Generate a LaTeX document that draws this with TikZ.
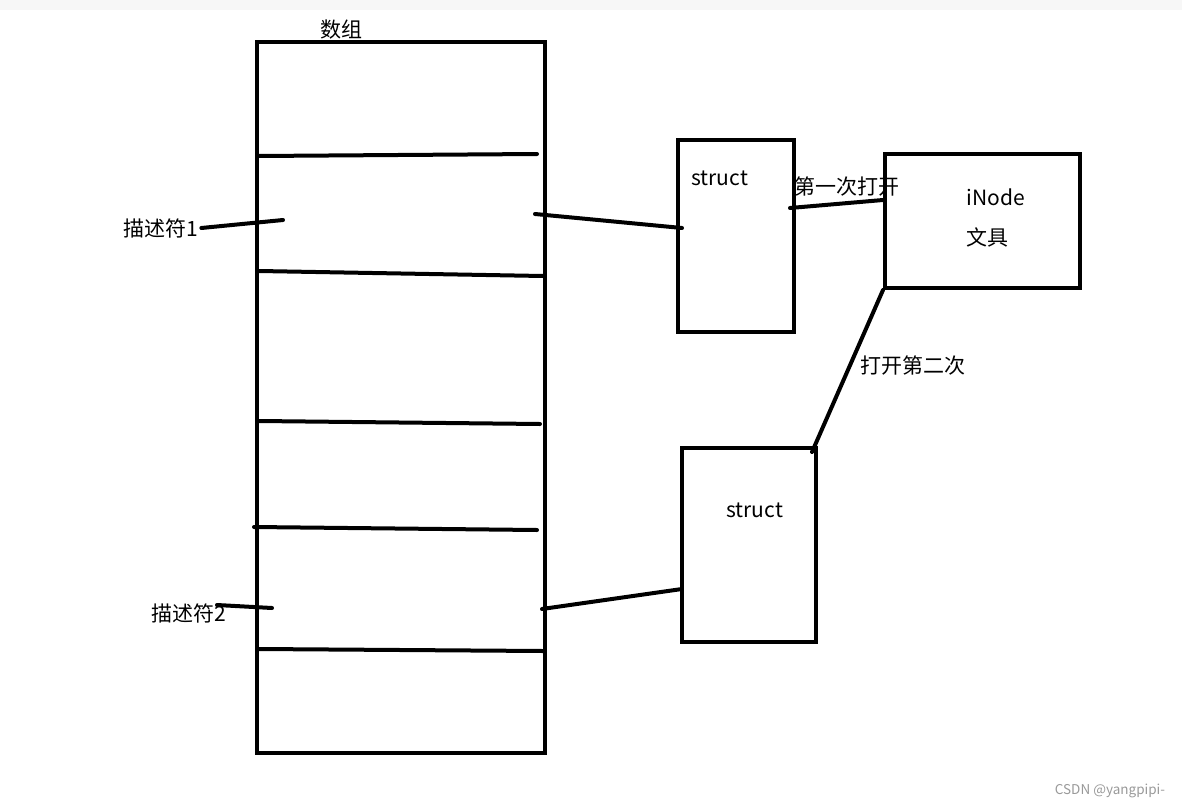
\documentclass[tikz,border=0pt]{standalone}
\usepackage{fontspec}
\setmainfont{Noto Sans CJK SC}
\begin{document}
\begin{tikzpicture}[x=1pt,y=-1pt,line width=4pt,line cap=round,
    box/.style={draw,line width=4pt,inner sep=0pt},
    lbl/.style={font=\fontsize{21}{25}\selectfont}]
    \useasboundingbox (0,0) rectangle (1182,808);
    \fill[gray!6] (0,0) rectangle (1182,10);

    % array with its slots
    \node[box,minimum width=288,minimum height=711] (arr) at (401,397.5) {};
    \node[lbl] (arrname) at (341,30) {数组};
    \draw (259,156) -- (537,154);
    \draw (259,271) -- (543,276);
    \draw (259,421) -- (540,424);
    \draw (254,527) -- (537,530);
    \draw (259,649) -- (543,651);

    % descriptors
    \node[lbl,inner sep=1pt] (fd1) at (161,228) {描述符1};
    \node[lbl] (fd2) at (189,613) {描述符2};
    \coordinate (fd1in) at (283,220);
    \coordinate (fd2in) at (272,608);
    \draw (fd1.east) -- (fd1in);
    \draw (217,605) -- (fd2in);

    % file structs
    \node[box,minimum width=116,minimum height=192] (st1) at (736,236) {};
    \node[lbl,anchor=west] (st1name) at (686,178) {struct};
    \node[box,minimum width=134,minimum height=194] (st2) at (749,545) {};
    \node[lbl,anchor=west] (st2name) at (721,510) {struct};

    % inode
    \node[box,minimum width=195,minimum height=134] (ino) at (982.5,221) {};
    \node[lbl,anchor=west] (inoname) at (961,197) {iNode};
    \node[lbl,anchor=west] (inofile) at (961,237) {文具};

    % connections
    \coordinate (slot1) at (535,214);
    \coordinate (slot2) at (542,609);
    \coordinate (st1in) at (682,228);
    \coordinate (st1out) at (790,208);
    \coordinate (st2in) at (682,589);
    \coordinate (st2out) at (812,452);
    \draw (slot1) -- (st1in);
    \draw (slot2) -- (st2in);
    \draw (st1out) -- (ino.west |- 0,200);
    \draw (ino.south west) -- (st2out);
    \node[lbl] (open1) at (847,187) {第一次打开};
    \node[lbl] (open2) at (913,366) {打开第二次};

    \node[text=gray!80,font=\fontsize{13.5}{16}\selectfont] (mark) at (1110,791) {CSDN @yangpipi-};
\end{tikzpicture}
\end{document}
